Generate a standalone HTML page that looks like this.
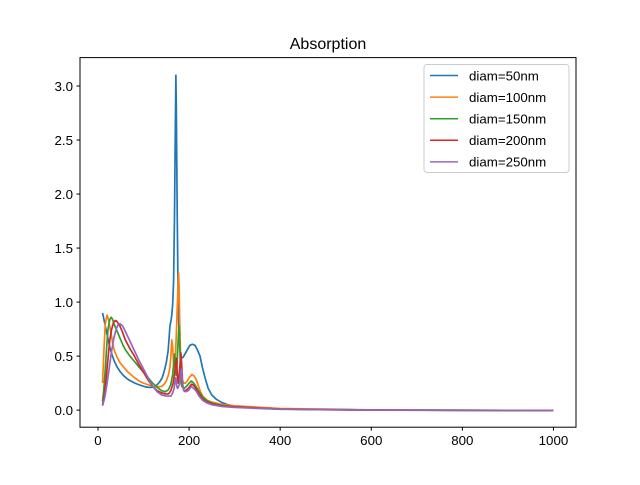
<!DOCTYPE html>
<html><head><meta charset="utf-8"><style>
body{margin:0;background:#fff}
svg{font-family:"Liberation Sans","DejaVu Sans",sans-serif}
</style></head><body>
<svg id="chart" width="640" height="480" viewBox="0 0 640 480">
<rect width="640" height="480" fill="#fff"/>
<text x="328" y="49" text-anchor="middle" font-size="16">Absorption</text>
<g id="plot"></g>
<rect x="80" y="57.6" width="496" height="369.6" fill="none" stroke="#000" stroke-width="1"/>
<g id="axes"></g>
<g id="legend"></g>
</svg>
<script>
const xTicks=[0,200,400,600,800,1000];
const yTicks=[0.0,0.5,1.0,1.5,2.0,2.5,3.0];
const seriesNames=["diam=50nm","diam=100nm","diam=150nm","diam=200nm","diam=250nm"];
const colors=["#1f77b4","#ff7f0e","#2ca02c","#d62728","#9467bd"];
const d50x=[10,14,18,22,26,31,36,42,48,56,64,72,81,90,100,107,114,120,125,130,136,141,146,150,154,156,158,160,162,164,166,168,170,171,172,174,176,178,180,183,187,191,195,199,202,207,213,218,224,229,235,242,250,260,272,285,300,350,400,500,600,800,1000];
const d50y=[0.9,0.82,0.74,0.66,0.58,0.51,0.45,0.4,0.36,0.32,0.29,0.27,0.25,0.235,0.22,0.213,0.21,0.212,0.22,0.235,0.265,0.3,0.37,0.44,0.55,0.66,0.78,0.82,0.88,0.98,1.2,1.8,2.7,3.1,2.8,1.8,1.0,0.7,0.55,0.48,0.49,0.52,0.55,0.58,0.6,0.61,0.6,0.56,0.5,0.4,0.3,0.2,0.14,0.1,0.07,0.05,0.035,0.018,0.01,0.003,0,-0.002,-0.003];
const d100x=[10,13,16,20,23,26,30,33,36,42,48,56,64,72,80,90,100,110,120,130,140,145,150,155,158,160,162,164,166,168,170,172,174,176,177,178,179,181,183,185,188,192,196,200,206,210,215,220,225,230,240,250,270,300,400,600,1000];
const d100y=[0.25,0.55,0.8,0.88,0.84,0.77,0.68,0.6,0.55,0.49,0.44,0.4,0.36,0.33,0.3,0.27,0.25,0.235,0.22,0.215,0.22,0.24,0.27,0.33,0.4,0.5,0.65,0.58,0.42,0.4,0.5,0.7,0.95,1.15,1.27,1.15,0.9,0.55,0.35,0.28,0.25,0.25,0.27,0.3,0.33,0.32,0.29,0.23,0.17,0.13,0.09,0.075,0.055,0.04,0.015,0.002,-0.003];
const d150x=[10,13,16,19,22,26,29,32,35,40,45,50,55,60,70,80,90,100,110,120,130,140,148,155,160,164,166,168,170,172,174,176,178,180,182,184,188,192,196,200,205,210,215,222,230,240,250,270,300,400,600,1000];
const d150y=[0.08,0.2,0.38,0.58,0.75,0.84,0.86,0.84,0.8,0.75,0.7,0.65,0.6,0.56,0.5,0.45,0.4,0.35,0.3,0.25,0.21,0.18,0.17,0.19,0.24,0.33,0.42,0.52,0.4,0.32,0.45,0.65,0.78,0.55,0.3,0.22,0.2,0.21,0.23,0.25,0.27,0.25,0.22,0.17,0.12,0.085,0.065,0.045,0.03,0.01,0.001,-0.003];
const d200x=[10,14,18,22,26,30,34,38,42,48,54,60,70,80,90,100,110,120,130,140,148,155,160,165,168,170,172,174,176,178,180,182,184,186,189,192,198,205,210,215,222,230,240,250,270,300,400,600,1000];
const d200y=[0.05,0.14,0.3,0.48,0.65,0.75,0.81,0.83,0.82,0.78,0.72,0.65,0.57,0.5,0.42,0.35,0.28,0.22,0.18,0.16,0.15,0.15,0.18,0.25,0.33,0.42,0.48,0.35,0.25,0.3,0.42,0.53,0.4,0.22,0.18,0.18,0.2,0.24,0.23,0.2,0.15,0.1,0.075,0.06,0.04,0.03,0.01,0.001,-0.003];
const d250x=[10,15,20,25,30,35,40,44,48,54,60,70,80,90,100,110,120,130,140,150,160,164,167,169,171,173,175,177,179,181,183,185,188,192,198,205,210,215,222,230,240,250,270,300,400,600,1000];
const d250y=[0.04,0.12,0.25,0.4,0.55,0.67,0.75,0.79,0.8,0.78,0.73,0.64,0.55,0.46,0.38,0.3,0.22,0.17,0.14,0.13,0.13,0.16,0.2,0.26,0.3,0.22,0.2,0.22,0.24,0.32,0.38,0.28,0.18,0.17,0.18,0.22,0.2,0.18,0.13,0.09,0.065,0.05,0.035,0.025,0.008,0.001,-0.003];
const allX=[d50x,d100x,d150x,d200x,d250x];
const allY=[d50y,d100y,d150y,d200y,d250y];

const NS="http://www.w3.org/2000/svg";
const X0=80,X1=576,Y0=427.2,Y1=57.6;
const xmin=-39.5,xmax=1049.5,ymin=-0.158,ymax=3.263;
function sx(v){return X0+(v-xmin)/(xmax-xmin)*(X1-X0);}
function sy(v){return Y0-(v-ymin)/(ymax-ymin)*(Y0-Y1);}
function mk(t,a){const e=document.createElementNS(NS,t);for(const k in a)e.setAttribute(k,a[k]);return e;}
const plot=document.getElementById('plot'),axes=document.getElementById('axes'),leg=document.getElementById('legend');
allX.forEach((xs,i)=>{
  const pts=xs.map((x,j)=>sx(x).toFixed(2)+","+sy(allY[i][j]).toFixed(2)).join(" ");
  const p=mk('polyline',{points:pts,fill:'none',stroke:colors[i],'stroke-width':1.7,'stroke-linejoin':'round'});
  
  
  plot.appendChild(p);
});
xTicks.forEach(v=>{
  const x=sx(v);
  const l=mk('line',{x1:x,x2:x,y1:Y0,y2:Y0+3.5,stroke:'#000'});
  
  
  axes.appendChild(l);
  const t=mk('text',{x:x,y:Y0+18,'text-anchor':'middle','font-size':13.3});
  t.textContent=v;
  
  
  axes.appendChild(t);
});
yTicks.forEach(v=>{
  const y=sy(v);
  const l=mk('line',{x1:X0-3.5,x2:X0,y1:y,y2:y,stroke:'#000'});
  
  
  axes.appendChild(l);
  const t=mk('text',{x:X0-7,y:y+4.8,'text-anchor':'end','font-size':13.3});
  t.textContent=v.toFixed(1);
  
  
  axes.appendChild(t);
});
const box=mk('rect',{x:424,y:64.5,width:145,height:108,rx:3,fill:'#fff','fill-opacity':0.8,stroke:'#ccc'});


leg.appendChild(box);
seriesNames.forEach((n,i)=>{
  const y=75.5+i*21.6;
  const l=mk('line',{x1:430,x2:458,y1:y,y2:y,stroke:colors[i],'stroke-width':1.5});
  
  
  leg.appendChild(l);
  const t=mk('text',{x:469,y:y+4.8,'font-size':13.3});
  t.textContent=n;
  
  
  leg.appendChild(t);
});
</script>
</body></html>
